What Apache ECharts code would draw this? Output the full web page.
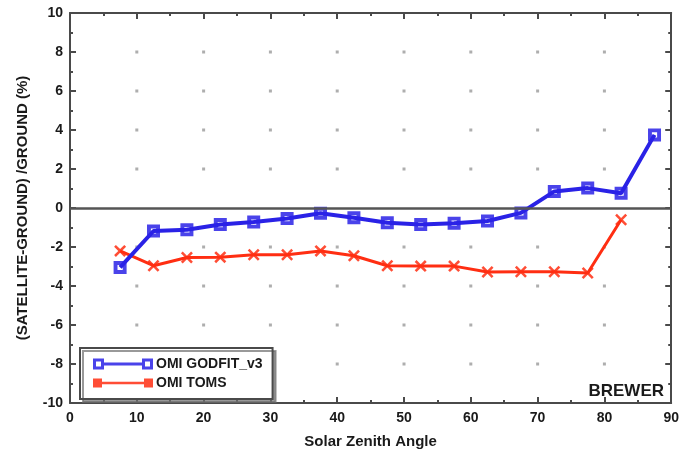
<!DOCTYPE html>
<html>
<head>
<meta charset="utf-8">
<script src="https://cdn.jsdelivr.net/npm/echarts@6/dist/echarts.min.js"></script>
<style>
  html, body { margin: 0; padding: 0; background: #fff; }
  #chart { width: 682px; height: 454px; }
</style>
</head>
<body>
<div id="chart"></div>
<script>
// Solar zenith angle bins (degrees)
const szaGodfit = [7.5, 12.5, 17.5, 22.5, 27.5, 32.5, 37.5, 42.5, 47.5, 52.5, 57.5, 62.5, 67.5, 72.5, 77.5, 82.5, 87.5];
const szaToms   = [7.5, 12.5, 17.5, 22.5, 27.5, 32.5, 37.5, 42.5, 47.5, 52.5, 57.5, 62.5, 67.5, 72.5, 77.5, 82.5];

// Relative difference (satellite - ground) / ground, in percent
const godfitDiff = [-3.05, -1.18, -1.12, -0.85, -0.72, -0.54, -0.27, -0.5, -0.76, -0.85, -0.78, -0.67, -0.25, 0.85, 1.02, 0.76, 3.75];
const tomsDiff   = [-2.2, -2.96, -2.54, -2.52, -2.4, -2.4, -2.2, -2.45, -2.96, -2.98, -2.98, -3.28, -3.27, -3.27, -3.33, -0.6];

const seriesNames = ['OMI GODFIT_v3', 'OMI TOMS'];

// Major tick positions where the faint grid dots sit
const xGridTicks = [10, 20, 30, 40, 50, 60, 70, 80];
const yGridTicks = [-8, -6, -4, -2, 2, 4, 6, 8];

const stationLabel = 'BREWER';

const pair = (xs, ys) => xs.map((x, i) => [x, ys[i]]);
const gridDots = [];
xGridTicks.forEach(x => yGridTicks.forEach(y => gridDots.push([x, y])));

const BLUE = '#2a22e6';
const RED = '#ff2e12';
const AXIS = '#4a4a4a';
const TEXT = '#1a1a1a';
const FONT = '"Liberation Sans", Arial, sans-serif';

// Hollow square and X-cross markers
const squareSym = 'path://M0,0H10V10H0Z M3,3V7H7V3Z';
const crossSym = 'path://M0,1.5L1.5,0L5,3.5L8.5,0L10,1.5L6.5,5L10,8.5L8.5,10L5,6.5L1.5,10L0,8.5L3.5,5Z';
const legendSquare = 'path://M0,0H11V11H0Z M3,3V8H8V3Z M11,4H49V7H11Z M49,0H60V11H49Z M52,3V8H57V3Z';
const legendCross = 'path://M0,1H9V10H0Z M9,4.2H51V6.8H9Z M51,1H60V10H51Z';

const axisCommon = {
  axisLine: { show: true, onZero: false, lineStyle: { color: AXIS, width: 2 } },
  axisTick: { show: true, inside: true, length: 6, lineStyle: { color: AXIS, width: 2 } },
  minorTick: { show: true, splitNumber: 2, length: 3, lineStyle: { color: AXIS, width: 2 } },
  splitLine: { show: false }
};

const xBase = Object.assign({}, axisCommon, { type: 'value', min: 0, max: 90, interval: 10 });
const yBase = Object.assign({}, axisCommon, { type: 'value', min: -10, max: 10, interval: 2 });

const chart = echarts.init(document.getElementById('chart'), null, { renderer: 'canvas' });

chart.setOption({
  backgroundColor: '#fff',
  animation: false,
  textStyle: { fontFamily: FONT },
  grid: { left: 70, right: 10, top: 13, bottom: 47, containLabel: false },
  xAxis: [
    Object.assign({}, xBase, {
      position: 'bottom',
      name: 'Solar Zenith Angle',
      nameLocation: 'middle',
      nameGap: 31,
      nameTextStyle: { fontFamily: FONT, fontWeight: 'bold', fontSize: 15, color: TEXT },
      axisLabel: { fontFamily: FONT, fontWeight: 'bold', fontSize: 14, color: TEXT, margin: 8 }
    }),
    Object.assign({}, xBase, { position: 'top', axisLabel: { show: false } })
  ],
  yAxis: [
    Object.assign({}, yBase, {
      position: 'left',
      name: '(SATELLITE-GROUND) /GROUND (%)',
      nameLocation: 'middle',
      nameGap: 40,
      nameTextStyle: { fontFamily: FONT, fontWeight: 'bold', fontSize: 15, color: TEXT },
      axisLabel: { fontFamily: FONT, fontWeight: 'bold', fontSize: 14, color: TEXT, margin: 7 }
    }),
    Object.assign({}, yBase, { position: 'right', axisLabel: { show: false } })
  ],
  legend: {
    left: 80,
    top: 348,
    orient: 'vertical',
    itemWidth: 60,
    itemHeight: 11,
    itemGap: 5,
    padding: [9, 10, 9, 13],
    borderColor: AXIS,
    borderWidth: 2,
    borderRadius: 0,
    backgroundColor: '#fff',
    shadowColor: 'rgba(110,110,110,0.7)',
    shadowOffsetX: 3,
    shadowOffsetY: 3,
    shadowBlur: 0,
    textStyle: { fontFamily: FONT, fontWeight: 'bold', fontSize: 14, color: TEXT, padding: [0, 0, 0, -2] },
    data: [
      { name: seriesNames[0], icon: legendSquare, itemStyle: { color: BLUE } },
      { name: seriesNames[1], icon: legendCross, itemStyle: { color: RED } }
    ]
  },
  graphic: [
    {
      type: 'text',
      right: 18,
      top: 383,
      style: { text: stationLabel, fontFamily: FONT, fontWeight: 'bold', fontSize: 17, fill: TEXT }
    }
  ],
  series: [
    {
      name: 'grid-dots',
      type: 'scatter',
      data: gridDots,
      symbol: 'rect',
      symbolSize: 3,
      itemStyle: { color: '#9a9a9a' },
      silent: true,
      z: 1
    },
    {
      name: 'zero',
      type: 'line',
      data: [],
      silent: true,
      markLine: {
        silent: true,
        symbol: 'none',
        label: { show: false },
        lineStyle: { color: '#555', width: 2.5, type: 'solid' },
        data: [{ yAxis: 0 }]
      },
      z: 2
    },
    {
      name: seriesNames[1],
      type: 'line',
      data: pair(szaToms, tomsDiff),
      symbol: crossSym,
      symbolSize: 12,
      lineStyle: { color: RED, width: 3 },
      itemStyle: { color: RED, opacity: 0.85 },
      z: 3
    },
    {
      name: seriesNames[0],
      type: 'line',
      data: pair(szaGodfit, godfitDiff),
      symbol: squareSym,
      symbolSize: 13,
      lineStyle: { color: BLUE, width: 4 },
      itemStyle: { color: BLUE, opacity: 0.85 },
      z: 4
    }
  ]
});
</script>
</body>
</html>
